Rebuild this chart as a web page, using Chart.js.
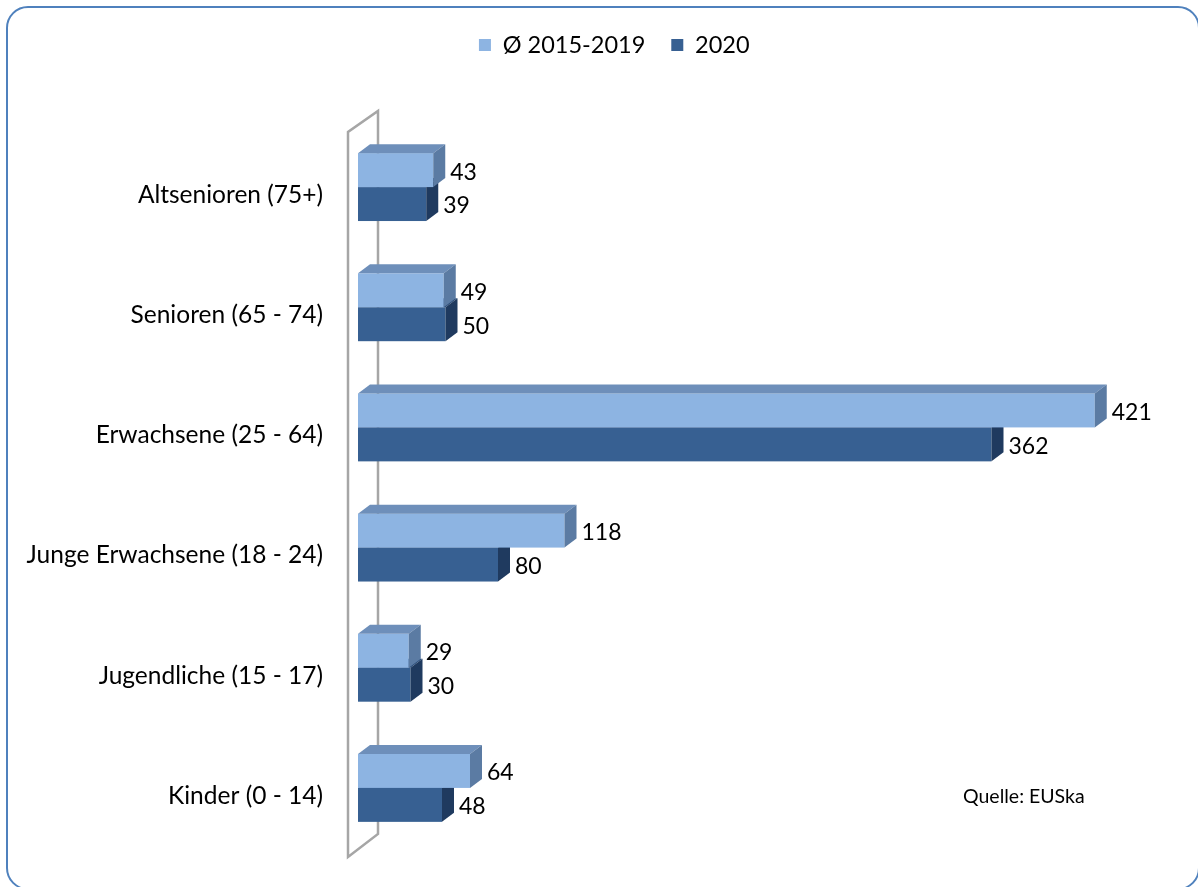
<!DOCTYPE html>
<html><head><meta charset="utf-8">
<script src="https://cdn.jsdelivr.net/npm/chart.js@4.4.0/dist/chart.umd.min.js"></script>
<style>
html,body{margin:0;padding:0;background:#fff;}
#wrap{position:relative;width:1198px;height:887px;overflow:hidden;}
#frame{position:absolute;left:6px;top:6px;width:1194px;height:884px;box-sizing:border-box;border:2px solid #4f81bd;border-radius:22px;pointer-events:none;}
#src{position:absolute;left:963px;top:784px;font-family:Lato,sans-serif;font-size:19.5px;color:#000;white-space:nowrap;}
canvas{position:absolute;left:0;top:0;}
</style></head>
<body><div id="wrap"><canvas id="c" width="1210" height="887"></canvas><div id="frame"></div><div id="src">Quelle: EUSka</div></div>
<script>
const categories = ['Altsenioren (75+)','Senioren (65 - 74)','Erwachsene (25 - 64)','Junge Erwachsene (18 - 24)','Jugendliche (15 - 17)','Kinder (0 - 14)'];
const seriesNames = ['Ø 2015-2019','2020'];
const avg2015to2019 = [43, 49, 421, 118, 29, 64];
const values2020 = [39, 50, 362, 80, 30, 48];

const FONT = 'Lato, sans-serif';
const DX = 12, DY = 9;
const L = 20, R = 1.5;
const styles = [
  {front:'#8DB4E2', top:'#6E8FBA', side:'#5B7BA3'},
  {front:'#376092', top:'#2C4F7C', side:'#1F3A5F'}
];

function poly(ctx, pts, color){
  ctx.beginPath();
  ctx.moveTo(pts[0][0], pts[0][1]);
  for (let i=1;i<pts.length;i++) ctx.lineTo(pts[i][0], pts[i][1]);
  ctx.closePath();
  ctx.fillStyle = color;
  ctx.fill();
}
function drawBar(ctx, el, st){
  const p = el.getProps(['x','y','base','height'], true);
  const t = p.y - p.height/2, b = p.y + p.height/2;
  const l = Math.min(p.base, p.x), r = Math.max(p.base, p.x);
  ctx.fillStyle = st.front;
  ctx.fillRect(l, t, r-l, b-t);
  poly(ctx, [[l,t],[l+DX,t-DY],[r+DX,t-DY],[r,t]], st.top);
  poly(ctx, [[r,t],[r+DX,t-DY],[r+DX,b-DY],[r,b]], st.side);
}

const bars3d = {
  id:'bars3d',
  beforeDatasetsDraw(chart){
    const ctx = chart.ctx, a = chart.chartArea;
    ctx.save();
    ctx.strokeStyle = '#a6a6a6';
    ctx.lineWidth = 2.5;
    ctx.beginPath();
    ctx.moveTo(a.left-10, a.top+5);
    ctx.lineTo(a.left-10, a.bottom+9);
    ctx.lineTo(a.left+20, a.bottom-14);
    ctx.lineTo(a.left+20, a.top-16);
    ctx.closePath();
    ctx.stroke();
    const m0 = chart.getDatasetMeta(0), m1 = chart.getDatasetMeta(1);
    for (let i=0;i<categories.length;i++){
      drawBar(ctx, m1.data[i], styles[1]);
      drawBar(ctx, m0.data[i], styles[0]);
    }
    ctx.fillStyle = '#000';
    ctx.font = '23px ' + FONT;
    ctx.textBaseline = 'middle';
    ctx.textAlign = 'left';
    [m0, m1].forEach((m, di) => {
      const vals = chart.data.datasets[di].data;
      m.data.forEach((el, i) => {
        const p = el.getProps(['x','y'], true);
        ctx.fillText(String(vals[i]), p.x + DX + 5, p.y + 2);
      });
    });
    ctx.restore();
    return false;
  }
};

Chart.defaults.color = '#000';
Chart.defaults.font.family = FONT;

new Chart(document.getElementById('c'), {
  type:'bar',
  data:{
    labels: categories,
    datasets:[
      {label: seriesNames[0], data: avg2015to2019, backgroundColor: styles[0].front, borderWidth:0},
      {label: seriesNames[1], data: values2020, backgroundColor: styles[1].front, borderWidth:0}
    ]
  },
  options:{
    indexAxis:'y',
    responsive:false,
    animation:false,
    events:[],
    layout:{padding:{top:7.25, left:L, right:R, bottom:39}},
    plugins:{
      legend:{
        position:'top',
        labels:{boxWidth:12, boxHeight:12, padding:26, color:'#000', font:{size:23.5, family:FONT}}
      },
      tooltip:{enabled:false}
    },
    datasets:{bar:{categoryPercentage:0.565, barPercentage:1}},
    scales:{
      x:{
        position:'top', min:0, max:486,
        ticks:{display:false}, grid:{display:false, drawTicks:false}, border:{display:false},
        afterFit(s){ s.height = 60.25; s.paddingLeft = 0; s.paddingRight = 0; }
      },
      y:{
        ticks:{padding:35, labelOffset:8, color:'#000', font:{size:24.5, family:FONT}},
        grid:{display:false, drawTicks:false}, border:{display:false},
        afterFit(s){ s.width = 358 - L; s.paddingTop = 0; s.paddingBottom = 0; }
      }
    }
  },
  plugins:[bars3d]
});
</script>
</body></html>
